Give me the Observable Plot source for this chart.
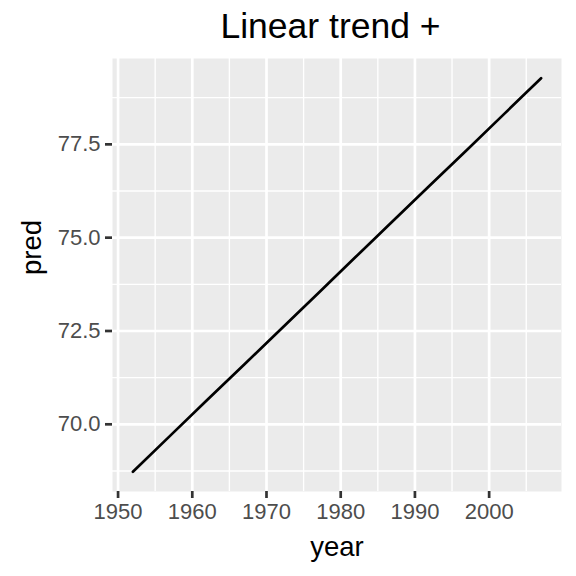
<!DOCTYPE html>
<html>
<head>
<meta charset="utf-8">
<script src="https://cdn.jsdelivr.net/npm/d3@7"></script>
<script src="https://cdn.jsdelivr.net/npm/@observablehq/plot@0.6"></script>
<style>
  html, body { margin: 0; padding: 0; background: #fff; }
  body { width: 576px; height: 576px; overflow: hidden; font-family: "Liberation Sans", Arial, sans-serif; }
  #title { height: 50px; position: relative; }
  #title span { position: absolute; left: 106px; width: 449px; text-align: center; top: 6px; font-size: 35.5px; line-height: 40px; color: #000; white-space: nowrap; }
  svg { display: block; }
</style>
</head>
<body>
<div id="title"><span>Linear trend +</span></div>
<div id="chart"></div>
<script>
const years = [1952, 1957, 1962, 1967, 1972, 1977, 1982, 1987, 1992, 1997, 2002, 2007];
const pred  = [68.73, 69.69, 70.65, 71.60, 72.56, 73.52, 74.48, 75.44, 76.40, 77.35, 78.31, 79.27];
const xMajor = [1950, 1960, 1970, 1980, 1990, 2000];
const xMinor = [1955, 1965, 1975, 1985, 1995, 2005];
const yMajor = [70.0, 72.5, 75.0, 77.5];
const yMinor = [68.75, 71.25, 73.75, 76.25, 78.75];
const xTitle = "year";
const yTitle = "pred";

const data = years.map((y, i) => ({year: y, pred: pred[i]}));

const chart = Plot.plot({
  width: 576,
  height: 526,
  marginLeft: 112,
  marginRight: 15,
  marginTop: 8,
  marginBottom: 85,
  style: {fontFamily: "'Liberation Sans', Arial, sans-serif", background: "white"},
  x: {domain: [1949.25, 2009.75]},
  y: {domain: [68.2, 79.8]},
  marks: [
    Plot.frame({fill: "#EBEBEB", stroke: null}),
    Plot.gridX(xMinor, {stroke: "white", strokeOpacity: 1, strokeWidth: 1.35}),
    Plot.gridY(yMinor, {stroke: "white", strokeOpacity: 1, strokeWidth: 1.35}),
    Plot.gridX(xMajor, {stroke: "white", strokeOpacity: 1, strokeWidth: 2.7}),
    Plot.gridY(yMajor, {stroke: "white", strokeOpacity: 1, strokeWidth: 2.7}),
    Plot.axisX(xMajor, {
      tickSize: 7, tickPadding: 5, stroke: "#333333", strokeWidth: 2.7,
      fill: "#4D4D4D", fontSize: 22, label: null, tickFormat: d => String(d)
    }),
    Plot.axisY(yMajor, {
      tickSize: 7, tickPadding: 5, stroke: "#333333", strokeWidth: 2.7,
      fill: "#4D4D4D", fontSize: 22, label: null, tickFormat: d3.format(".1f")
    }),
    Plot.line(data, {x: "year", y: "pred", stroke: "black", strokeWidth: 2.7}),
    Plot.text([xTitle], {frameAnchor: "bottom", dy: 64, fontSize: 27.5, fill: "black", lineAnchor: "bottom"}),
    Plot.text([yTitle], {frameAnchor: "left", dx: -80, rotate: -90, fontSize: 27.5, fill: "black"})
  ]
});
document.getElementById("chart").appendChild(chart);
</script>
</body>
</html>
